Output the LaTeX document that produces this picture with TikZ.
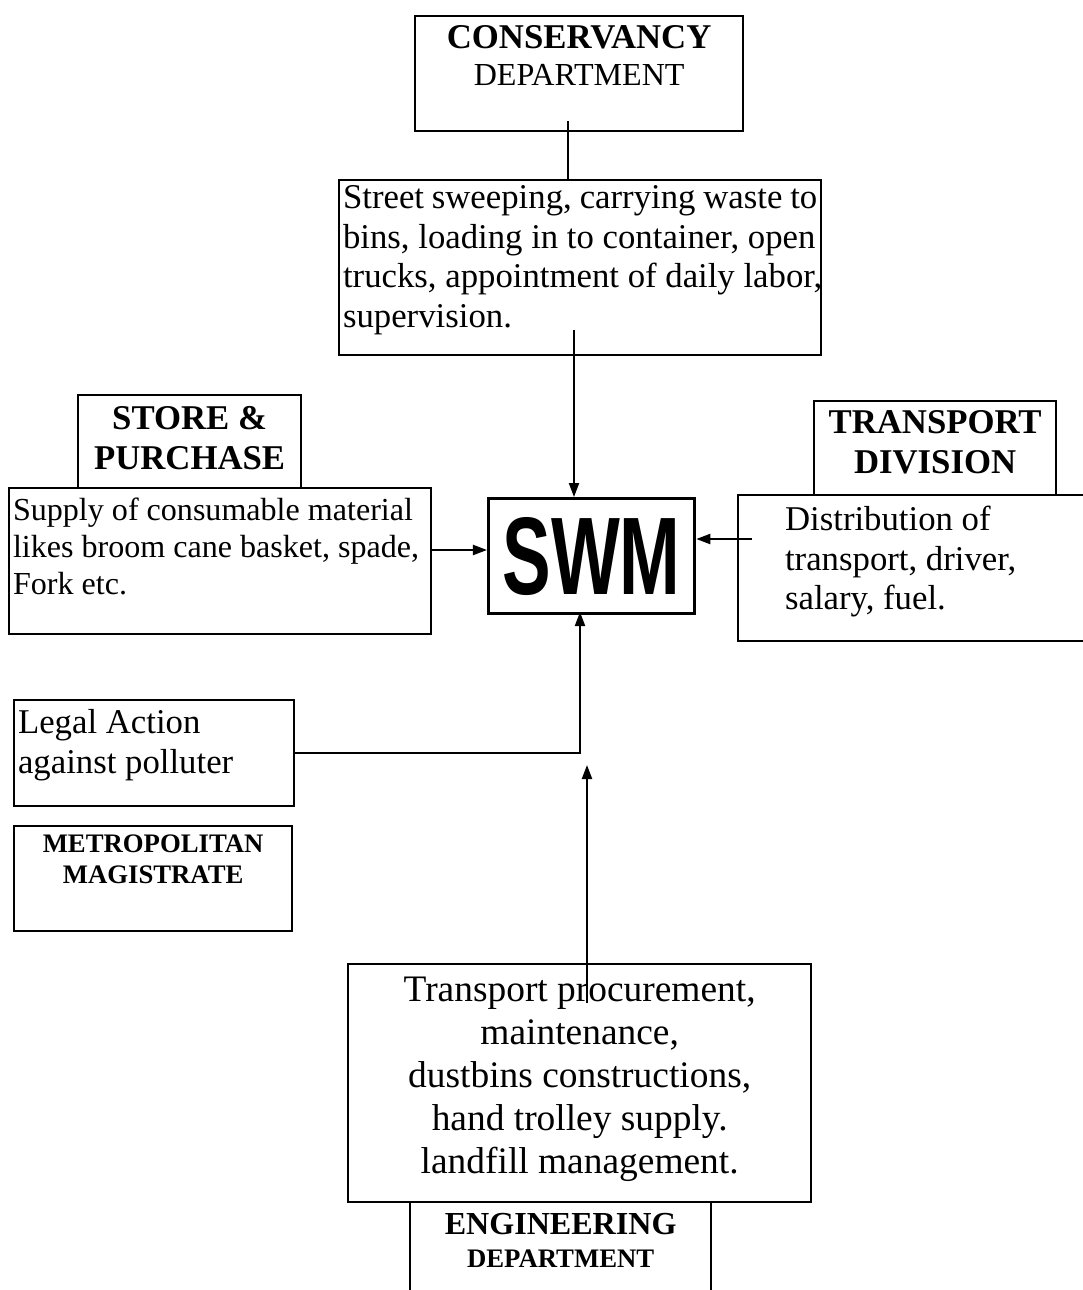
\documentclass[tikz,border=0pt]{standalone}
\usepackage{fontspec}
\usepackage{graphicx}
\setmainfont{Liberation Serif}
\newfontfamily\swmfont{Liberation Sans}
\usetikzlibrary{arrows.meta}

% font sizes of the scanned chart
\newcommand{\fsbody}{\fontsize{9.88}{11.36}\selectfont}
\newcommand{\fssmall}{\fontsize{9.12}{10.6}\selectfont}
\newcommand{\fsbig}{\fontsize{10.64}{12.24}\selectfont}
\newcommand{\fstiny}{\fontsize{7.6}{8.8}\selectfont}
% width, height, first baseline, text
\newcommand{\boxtext}[4]{\parbox[t][#2][t]{#1}{\rule{0pt}{#3}#4}}

\tikzset{
  box/.style={draw, line width=0.6pt, inner xsep=0.04cm, inner ysep=0pt, anchor=north west},
  link/.style={line width=0.6pt},
  arr/.style={link, -{Triangle[length=0.14cm, width=0.1cm]}}
}

\begin{document}
\begin{tikzpicture}[x=0.01cm, y=-0.01cm]
    \useasboundingbox (0,0) rectangle (1083,1290);
    \fill[white] (0,0) rectangle (1083,1290);
    \clip (0,0) rectangle (1083,1290);

    % Top
    \node[box] (cons) at (414,15) {\boxtext{3.20cm}{1.15cm}{0.32cm}{\centering\fsbody\bfseries CONSERVANCY\\ \fssmall\mdseries DEPARTMENT}};
    \node[box] (street) at (338,179) {\boxtext{4.74cm}{1.75cm}{0.28cm}{\raggedright\fsbody Street sweeping, carrying waste to\\ bins, loading in to container, open\\ \mbox{trucks, appointment of daily labor,}\\ supervision.}};

    % Centre
    \node[draw, line width=0.9pt, inner sep=0pt, minimum width=2.06cm, minimum height=1.15cm, anchor=north west] (swm) at (487,497) {\resizebox{1.78cm}{0.77cm}{\swmfont\bfseries SWM}};

    % Left side
    \node[box] (store) at (77,394) {\boxtext{2.15cm}{0.93cm}{0.34cm}{\centering\fsbody\bfseries STORE \&\\ PURCHASE}};
    \node[box] (supply) at (8,487) {\boxtext{4.14cm}{1.46cm}{0.32cm}{\raggedright\fssmall Supply of consumable material\\ likes broom cane basket, spade,\\ Fork etc.}};
    \node[box] (legal) at (13,699) {\boxtext{2.72cm}{1.06cm}{0.33cm}{\raggedright\fsbody Legal Action\\ against polluter}};
    \node[box] (metro) at (13,825) {\boxtext{2.70cm}{1.05cm}{0.26cm}{\centering\fstiny\bfseries METROPOLITAN\\ MAGISTRATE}};

    % Right side
    \node[box] (transport) at (813,400) {\boxtext{2.34cm}{0.94cm}{0.32cm}{\centering\fsbody\bfseries TRANSPORT\\ DIVISION}};
    \node[box] (dist) at (737,494) {\boxtext{3.55cm}{1.46cm}{0.35cm}{\raggedright\leftskip=0.43cm\fsbody Distribution of\\ transport, driver,\\ salary, fuel.}};

    % Bottom
    \node[box] (eng) at (347,963) {\boxtext{4.55cm}{2.38cm}{0.37cm}{\centering\fsbig Transport procurement,\\ maintenance,\\ dustbins constructions,\\ hand trolley supply.\\ landfill management.}};
    \node[box] (engdept) at (409,1201) {\boxtext{2.93cm}{1.00cm}{0.32cm}{\centering\bfseries\fontsize{9.12}{9.4}\selectfont ENGINEERING\\ \fontsize{7.6}{9.4}\selectfont DEPARTMENT}};

    % Connectors
    \coordinate (consfoot) at (568,121);
    \coordinate (streetfoot) at (574,330);
    \coordinate (supplyout) at (430,550);
    \coordinate (distin) at (752,539);
    \coordinate (swmfoot) at (580,612);
    \coordinate (engtop) at (587,1003);
    \coordinate (engtip) at (587,765);
    \draw[link] (consfoot) -- (consfoot |- street.north);
    \draw[arr] (streetfoot) -- (streetfoot |- swm.north);
    \draw[arr] (supplyout) -- (supplyout -| swm.west);
    \draw[arr] (distin) -- (distin -| swm.east);
    \draw[arr] (legal.east) -| (swmfoot);
    \draw[arr] (engtop) -- (engtip);
\end{tikzpicture}
\end{document}
